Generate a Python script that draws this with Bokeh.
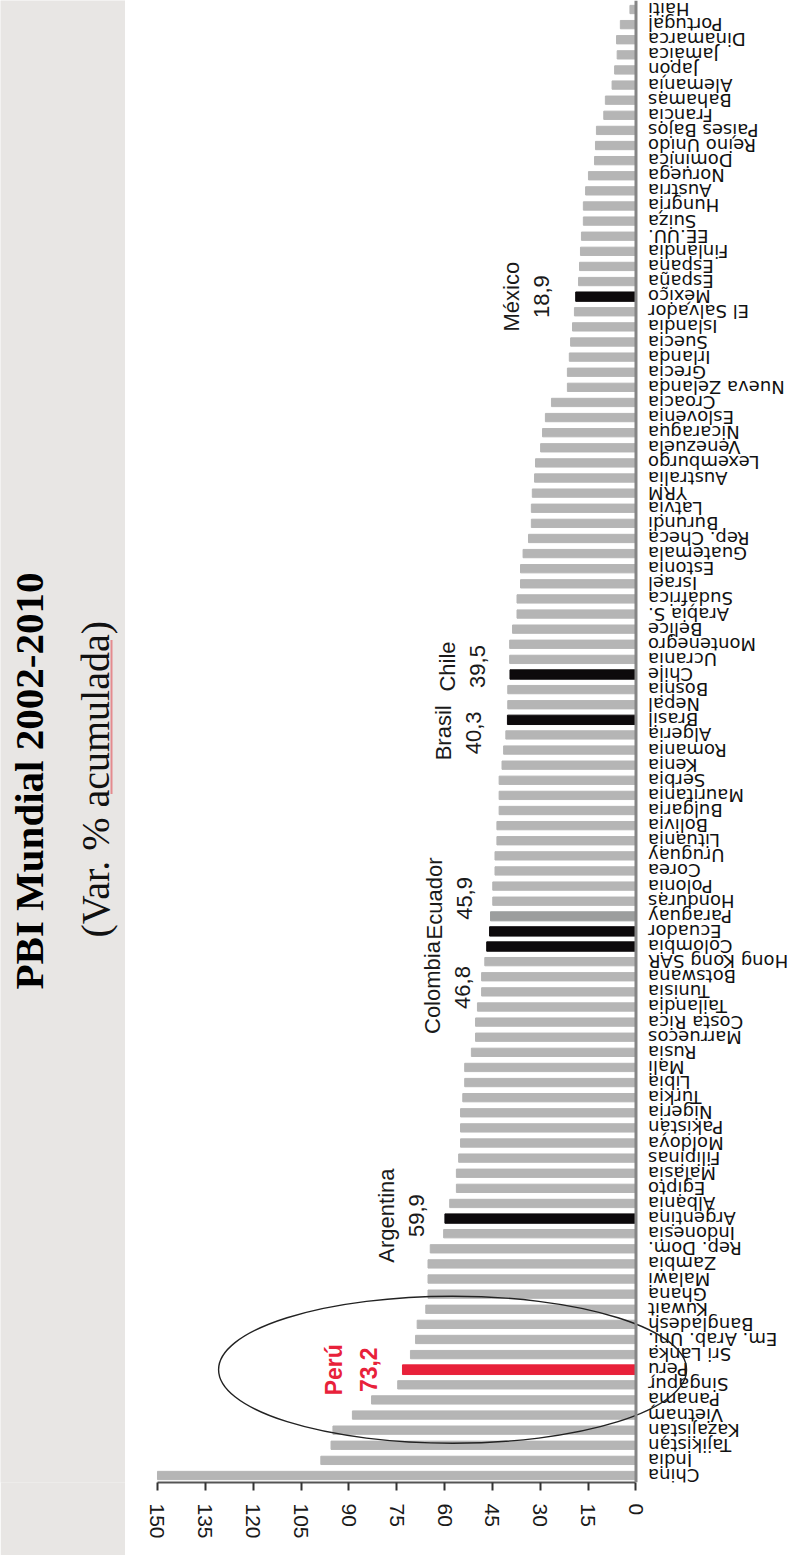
import math
from bokeh.plotting import figure
from bokeh.layouts import row
from bokeh.models import Range1d, Span, FixedTicker, ColumnDataSource
from bokeh.core.properties import value
from bokeh.embed import file_html
from bokeh.resources import INLINE

# ---------------- data (bottom -> top of the picture) ----------------
countries = [
    "China", "India", "Tajikistan", "Kazajistán", "Vietnam", "Panamá", "Singapur",
    "Perú", "Sri Lanka", "Em. Arab. Uni.", "Bangladesh", "Kuwait", "Ghana", "Malawi",
    "Zambia", "Rep. Dom.", "Indonesia", "Argentina", "Albania", "Egipto", "Malasia",
    "Filipinas", "Moldova", "Pakistán", "Nigeria", "Turkia", "Libia", "Mali", "Rusia",
    "Marruecos", "Costa Rica", "Tailandia", "Tunisia", "Botswana", "Hong Kong SAR",
    "Colombia", "Ecuador", "Paraguay", "Honduras", "Polonia", "Corea", "Uruguay",
    "Lituania", "Bolivia", "Bulgaria", "Mauritania", "Serbia", "Kenia", "Romania",
    "Algeria", "Brasil", "Nepal", "Bosnia", "Chile", "Ucrania", "Montenegro", "Belice",
    "Arabia S.", "Sudáfrica", "Israel", "Estonia", "Guatemala", "Rep. Checa", "Burundi",
    "Latvia", "YRM", "Australia", "Lexemburgo", "Venezuela", "Nicaragua", "Eslovenia",
    "Croacia", "Nueva Zelanda", "Grecia", "Irlanda", "Suecia", "Islandia", "El Salvador",
    "México", "España", "España", "Finlandia", "EE.UU.", "Suiza", "Hungría", "Austria",
    "Noruega", "Dominica", "Reino Unido", "Países Bajos", "Francia", "Bahamas",
    "Alemania", "Japón", "Jamaica", "Dinamarca", "Portugal", "Haiti",
]
growth = [
    150.0, 98.8, 95.6, 95.0, 88.9, 82.9, 74.7,
    73.2, 70.7, 69.1, 68.6, 65.9, 65.2, 65.2,
    65.2, 64.5, 60.3, 59.9, 58.4, 56.3, 56.3,
    55.6, 55.0, 55.0, 55.0, 54.3, 53.7, 53.7, 51.6,
    50.3, 50.3, 49.7, 48.4, 48.4, 47.4,
    46.8, 45.9, 45.6, 44.9, 44.9, 44.2, 44.2,
    43.6, 43.6, 42.9, 42.9, 42.9, 42.0, 41.5,
    40.8, 40.3, 40.2, 40.2, 39.5, 39.6, 39.6, 38.7,
    37.3, 37.3, 36.2, 36.2, 35.4, 33.7, 32.8,
    32.8, 32.5, 31.8, 31.5, 29.9, 29.3, 28.4,
    26.5, 21.5, 21.5, 20.9, 20.5, 19.9, 19.3,
    18.9, 18.0, 17.7, 17.4, 17.1, 16.5, 16.5, 15.8,
    14.9, 13.0, 12.7, 12.4, 10.1, 9.6,
    7.5, 6.7, 5.9, 6.1, 4.9, 1.9,
]
black_countries = ["Argentina", "Colombia", "Ecuador", "Brasil", "Chile", "México"]
red_countries = ["Perú"]
dark_countries = ["Paraguay"]

callout_names = ["Argentina", "Colombia", "Ecuador", "Brasil", "Chile", "México"]
callout_values = ["59,9", "46,8", "45,9", "40,3", "39,5", "18,9"]
peru_name = "Perú"
peru_value = "73,2"

tick_values = [0, 15, 30, 45, 60, 75, 90, 105, 120, 135, 150]

title_text = "PBI Mundial 2002-2010"
subtitle_text = "(Var. % acumulada)"

# ---------------- styles ----------------
GRAY = "#b5b5b5"
DARK = "#9c9e9e"
BLACK = "#0d0a0c"
RED = "#e8213a"
PANEL = "#e8e6e4"

n = len(countries)
idx = list(range(n))
colors, heights = [], []
for c in countries:
    if c in red_countries:
        colors.append(RED); heights.append(0.64)
    elif c in black_countries:
        colors.append(BLACK); heights.append(0.62)
    elif c in dark_countries:
        colors.append(DARK); heights.append(0.6)
    else:
        colors.append(GRAY); heights.append(0.55)

src = ColumnDataSource(dict(y=idx, v=growth, name=countries, color=colors,
                            h=heights, zero=[0.0] * n))

H = 1555
W_L = 125
W_M = 686
BOTTOM = 73
FRAME_H = H - BOTTOM

p = figure(width=W_M, height=H, output_backend="svg", toolbar_location=None,
           title=None,
           x_range=Range1d(160.03, -55.02), y_range=Range1d(-0.463, n - 1 + 0.596),
           y_axis_location=None, min_border_left=0, min_border_right=0,
           min_border_top=0, min_border_bottom=BOTTOM)
p.grid.visible = False
p.outline_line_color = None
p.background_fill_color = "white"
p.border_fill_color = "white"

p.hbar(y="y", left="zero", right="v", height="h", color="color", source=src)

# zero line
p.add_layout(Span(location=0, dimension="height", line_color="#858585", line_width=3))

# country labels (upside down)
p.text(x="zero", y="y", text="name", source=src, angle=math.pi,
       text_align="right", text_baseline="middle", x_offset=12,
       text_font=value("DejaVu Sans"), text_font_size="18px", text_color="#111111")

# callouts
pos = {c: i for i, c in enumerate(countries)}
c_x = [growth[pos[c]] for c in callout_names]
c_y = [pos[c] for c in callout_names]
c_txt = [f"{a}\n{b}" for a, b in zip(callout_names, callout_values)]
c_xoff = [-16, -12, -13, -21, -20, -22]
c_yoff = [-3, 41, -33, 13, -8, 0]
csrc = ColumnDataSource(dict(x=c_x, y=c_y, t=c_txt, xo=c_xoff, yo=c_yoff))
p.text(x="x", y="y", text="t", source=csrc, angle=math.pi / 2,
       text_align="center", text_baseline="bottom", x_offset="xo", y_offset="yo",
       text_color="#1a1a1a", text_font_size="22px",
       text_font=value("Liberation Sans"), text_line_height=1.2)

peru_i = pos[peru_name]
p.text(x=[growth[peru_i]], y=[peru_i], text=[f"{peru_name}\n{peru_value}"],
       angle=math.pi / 2, text_align="center", text_baseline="bottom",
       x_offset=-20, text_color=RED, text_font_size="23px", text_font_style="bold",
       text_font=value("Liberation Sans"), text_line_height=1.38)

# ellipse around Perú
p.ellipse(x=[57.5], y=[peru_i], width=[146.7], height=[9.73],
          fill_color=None, line_color="#222222", line_width=1.4)

# bottom axis
ax = p.xaxis[0]
ax.ticker = FixedTicker(ticks=tick_values)
ax.bounds = (0, 150)
ax.major_label_orientation = "vertical"
ax.major_label_standoff = 13
ax.major_tick_out = 8
ax.major_tick_in = 0
ax.minor_tick_out = 0
ax.minor_tick_in = 0
ax.axis_line_color = "#555555"
ax.axis_line_width = 2
ax.major_tick_line_color = "#333333"
ax.major_tick_line_width = 2
ax.major_label_text_font = "Liberation Sans"
ax.major_label_text_font_size = "21px"
ax.major_label_text_color = "#1a1a1a"

# ---------------- left title panel (data units = screen px from top) ----------------
t = figure(width=W_L, height=H, output_backend="svg", toolbar_location=None,
           title=None,
           x_range=Range1d(0, W_L), y_range=Range1d(FRAME_H, 0),
           x_axis_location=None, y_axis_location=None,
           min_border=0, min_border_left=0, min_border_right=0,
           min_border_top=0, min_border_bottom=BOTTOM)
t.grid.visible = False
t.outline_line_color = None
t.background_fill_color = PANEL
t.border_fill_color = PANEL
t.text(x=[28], y=[989], text=[title_text], angle=math.pi / 2,
       text_align="left", text_baseline="middle",
       text_font=value("Liberation Serif"), text_font_size="41px",
       text_font_style="bold", text_color="#000000")
t.text(x=[95], y=[937], text=[subtitle_text], angle=math.pi / 2,
       text_align="left", text_baseline="middle",
       text_font=value("Liberation Serif"), text_font_size="40px",
       text_color="#111111")
# spell-check style dotted underline below "acumulada"
t.segment(x0=[111], y0=[793], x1=[111], y1=[640], line_color="#e0303a",
          line_width=2, line_dash="1 1")

layout = row(t, p)
open("out.html", "w").write(file_html(layout, INLINE))
